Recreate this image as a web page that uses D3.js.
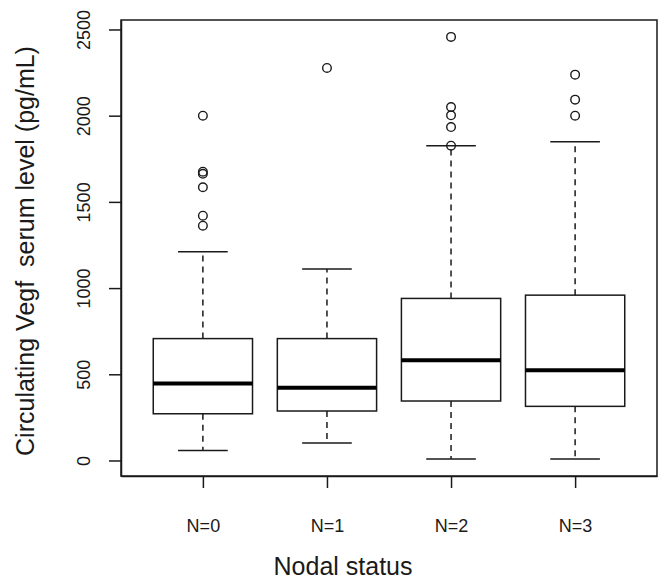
<!DOCTYPE html>
<html>
<head>
<meta charset="utf-8">
<script src="https://cdn.jsdelivr.net/npm/d3@7"></script>
<style>
  body { margin: 0; background: #fff; }
  svg { display: block; font-family: "Liberation Sans", Arial, sans-serif; }
</style>
</head>
<body>
<div id="chart"></div>
<script>
// Data -------------------------------------------------------------------------
const groups = ["N=0", "N=1", "N=2", "N=3"];
const lowerWhisker = [58, 101, 8, 8];
const q1 = [271, 287, 345, 314];
const median = [446, 422, 581, 523];
const q3 = [707, 707, 940, 959];
const upperWhisker = [1211, 1110, 1826, 1849];
const outliers = [
  [2000, 1675, 1663, 1585, 1420, 1362],
  [2277],
  [2457, 2050, 2002, 1934, 1826],
  [2238, 2093, 2000]
];
const yTicks = [0, 500, 1000, 1500, 2000, 2500];

// Canvas -----------------------------------------------------------------------
const canvasWidth = 669;
const canvasHeight = 579;

const plotLeft = 121;
const plotRight = 657;
const plotTop = 20;
const plotBottom = 476;

const ink = "#1a1a1a";

const svg = d3.select("#chart")
  .append("svg")
  .attr("width", canvasWidth)
  .attr("height", canvasHeight);

// R style scales: 4% padding on both ends
const xScale = d3.scaleLinear()
  .domain([0.34, 4.66])
  .range([plotLeft, plotRight]);
const yScale = d3.scaleLinear()
  .domain([-90, 2555])
  .range([plotBottom, plotTop]);

const boxHalf = 0.4;
const stapleHalf = 0.2;

// Axes -------------------------------------------------------------------------
const yAxis = svg.append("g")
  .attr("transform", "translate(" + plotLeft + ",0)")
  .call(d3.axisLeft(yScale).tickValues(yTicks).tickSize(12).tickSizeOuter(0).tickFormat(d3.format("d")));
yAxis.selectAll("path, line").attr("stroke", ink).attr("stroke-width", 1.5);
yAxis.selectAll("text")
  .attr("transform", "rotate(-90)")
  .attr("x", 0)
  .attr("y", -31)
  .attr("dy", 0)
  .style("text-anchor", "middle")
  .style("font-size", "18px")
  .attr("fill", ink);

const xAxis = svg.append("g")
  .attr("transform", "translate(0," + plotBottom + ")")
  .call(d3.axisBottom(xScale).tickValues([1, 2, 3, 4]).tickSize(12).tickSizeOuter(0)
    .tickFormat((d, i) => groups[i]));
xAxis.selectAll("path, line").attr("stroke", ink).attr("stroke-width", 1.5);
xAxis.selectAll("text")
  .attr("y", 56)
  .attr("dy", 0)
  .style("font-size", "18px")
  .attr("fill", ink);

// Plot frame
svg.append("rect")
  .attr("x", plotLeft)
  .attr("y", plotTop)
  .attr("width", plotRight - plotLeft)
  .attr("height", plotBottom - plotTop)
  .attr("fill", "none")
  .attr("stroke", ink)
  .attr("stroke-width", 1.5);

// Axis titles
svg.append("text")
  .text("Nodal status")
  .attr("x", 343)
  .attr("y", 575)
  .style("text-anchor", "middle")
  .style("font-size", "25px")
  .attr("fill", ink);

svg.append("text")
  .text("Circulating Vegf\u00a0 serum level (pg/mL)")
  .attr("transform", "translate(34," + 251 + ") rotate(-90)")
  .style("text-anchor", "middle")
  .style("font-size", "25px")
  .attr("fill", ink);

// Boxes ------------------------------------------------------------------------
const boxes = svg.append("g").selectAll("g")
  .data(groups)
  .join("g");

// whiskers (dashed)
boxes.append("line")
  .attr("x1", (d, i) => xScale(i + 1))
  .attr("x2", (d, i) => xScale(i + 1))
  .attr("y1", (d, i) => yScale(q3[i]))
  .attr("y2", (d, i) => yScale(upperWhisker[i]))
  .attr("stroke", ink).attr("stroke-width", 1.5).attr("stroke-dasharray", "6,5");
boxes.append("line")
  .attr("x1", (d, i) => xScale(i + 1))
  .attr("x2", (d, i) => xScale(i + 1))
  .attr("y1", (d, i) => yScale(q1[i]))
  .attr("y2", (d, i) => yScale(lowerWhisker[i]))
  .attr("stroke", ink).attr("stroke-width", 1.5).attr("stroke-dasharray", "6,5");

// staples
[upperWhisker, lowerWhisker].forEach(function(arr) {
  boxes.append("line")
    .attr("x1", (d, i) => xScale(i + 1 - stapleHalf))
    .attr("x2", (d, i) => xScale(i + 1 + stapleHalf))
    .attr("y1", (d, i) => yScale(arr[i]))
    .attr("y2", (d, i) => yScale(arr[i]))
    .attr("stroke", ink).attr("stroke-width", 1.5);
});

// box body
boxes.append("rect")
  .attr("x", (d, i) => xScale(i + 1 - boxHalf))
  .attr("width", (d, i) => xScale(i + 1 + boxHalf) - xScale(i + 1 - boxHalf))
  .attr("y", (d, i) => yScale(q3[i]))
  .attr("height", (d, i) => yScale(q1[i]) - yScale(q3[i]))
  .attr("fill", "#fff")
  .attr("stroke", ink)
  .attr("stroke-width", 1.5);

// median
boxes.append("line")
  .attr("x1", (d, i) => xScale(i + 1 - boxHalf))
  .attr("x2", (d, i) => xScale(i + 1 + boxHalf))
  .attr("y1", (d, i) => yScale(median[i]))
  .attr("y2", (d, i) => yScale(median[i]))
  .attr("stroke", "#000").attr("stroke-width", 4);

// outliers
boxes.each(function(d, i) {
  d3.select(this).selectAll("circle")
    .data(outliers[i])
    .join("circle")
    .attr("cx", xScale(i + 1))
    .attr("cy", v => yScale(v))
    .attr("r", 4.3)
    .attr("fill", "none")
    .attr("stroke", ink)
    .attr("stroke-width", 1.4);
});
</script>
</body>
</html>
